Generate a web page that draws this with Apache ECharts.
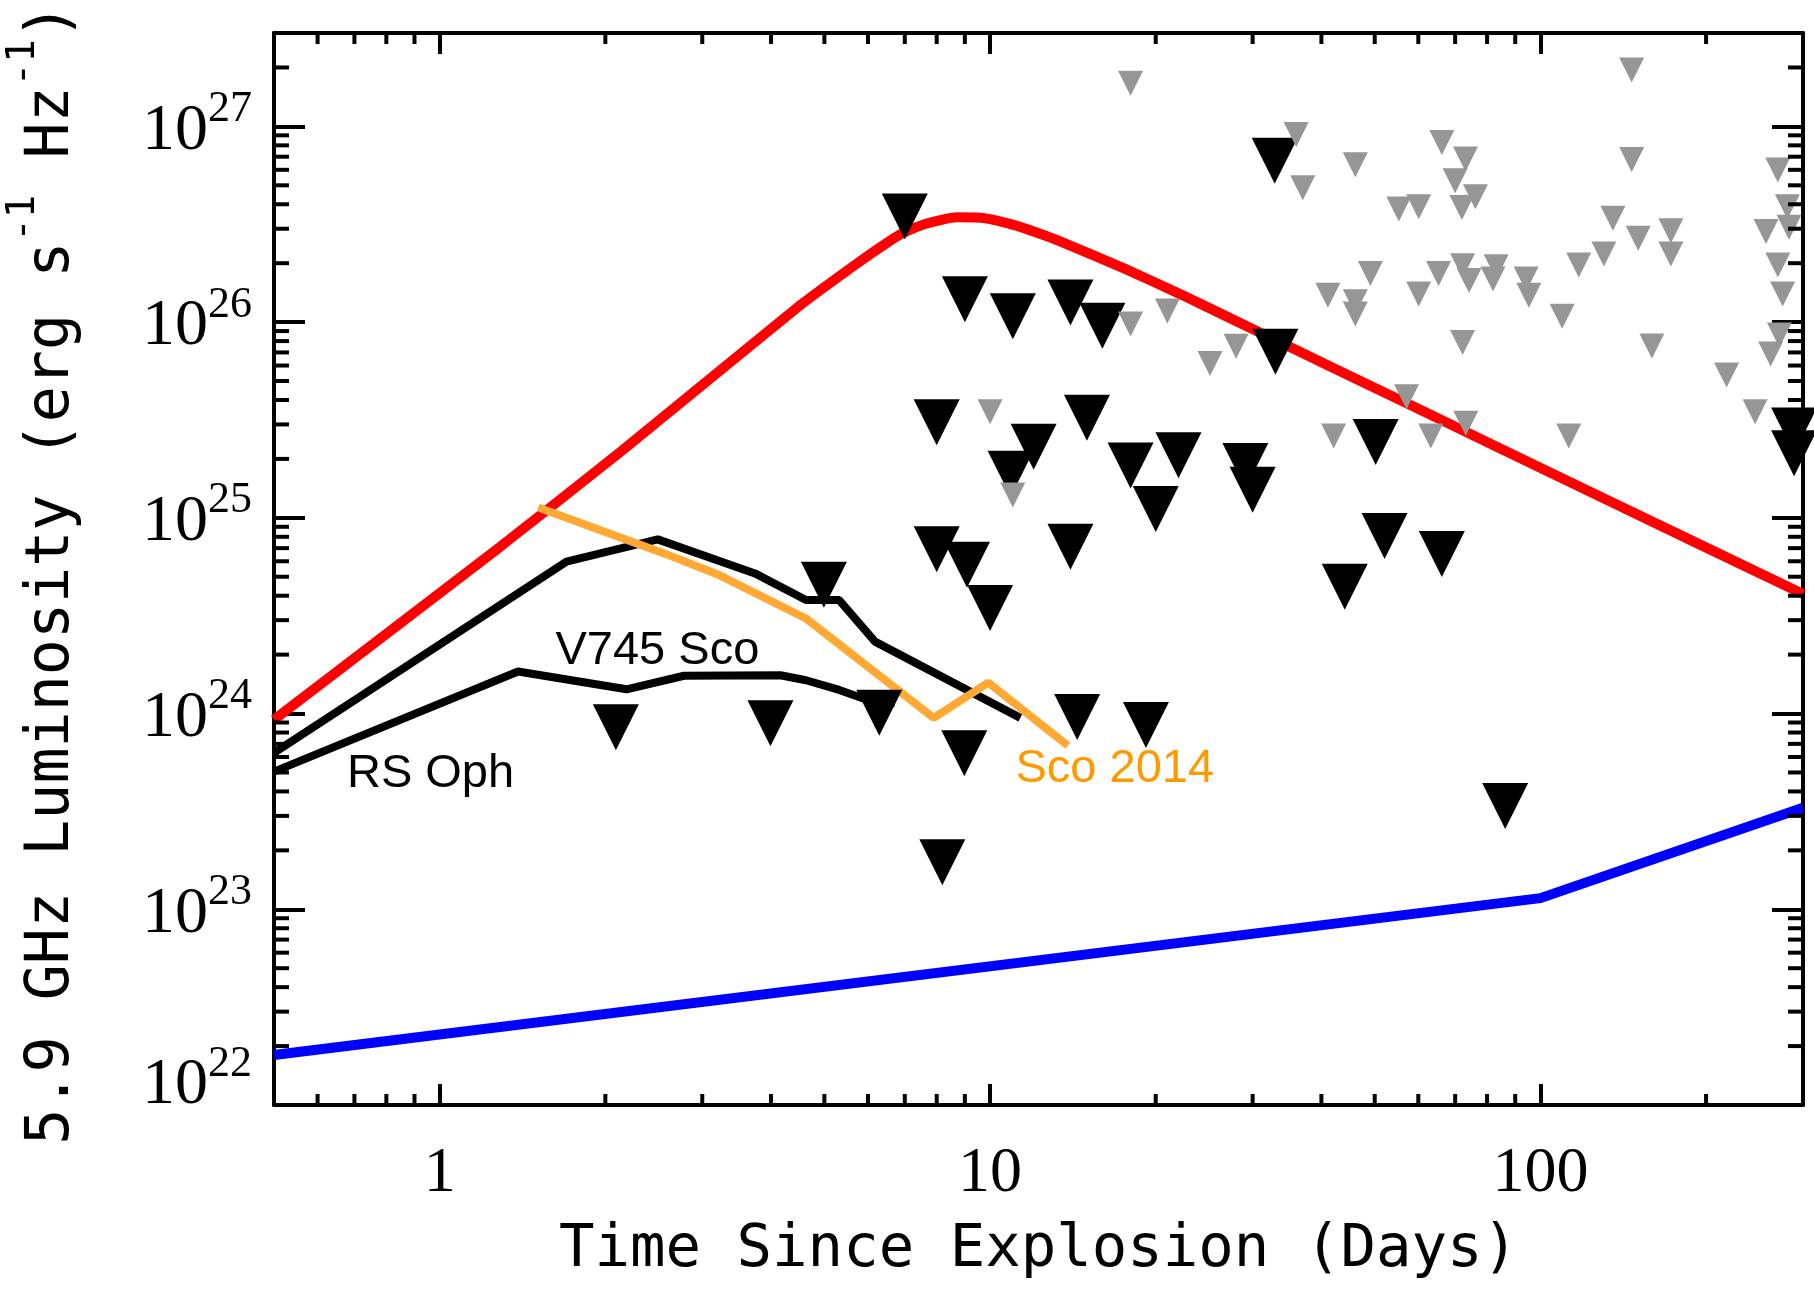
<!DOCTYPE html>
<html>
<head>
<meta charset="utf-8">
<title>5.9 GHz luminosity vs time since explosion</title>
<script src="https://cdn.jsdelivr.net/npm/echarts@6/dist/echarts.min.js"></script>
<style>
  html, body { margin: 0; padding: 0; background: #ffffff; }
  #chart { width: 1814px; height: 1290px; }
</style>
</head>
<body>
<div id="chart"></div>
<script>
// Axis ranges (days, erg s^-1 Hz^-1)
const X_MIN = 0.5, X_MAX = 300;
const Y_MIN = 1e22, Y_MAX = 3e27;

// Minor tick positions (major ticks come from the log axes themselves)
const xMinorTicks = [0.6, 0.7, 0.8, 0.9, 2, 3, 4, 5, 6, 7, 8, 9, 20, 30, 40, 50, 60, 70, 80, 90, 200];
const yMinorTicks = [
  2e22, 3e22, 4e22, 5e22, 6e22, 7e22, 8e22, 9e22,
  2e23, 3e23, 4e23, 5e23, 6e23, 7e23, 8e23, 9e23,
  2e24, 3e24, 4e24, 5e24, 6e24, 7e24, 8e24, 9e24,
  2e25, 3e25, 4e25, 5e25, 6e25, 7e25, 8e25, 9e25,
  2e26, 3e26, 4e26, 5e26, 6e26, 7e26, 8e26, 9e26,
  2e27
];

// Model light curves [days, luminosity]
const shockModel = [
  [0.5, 9.3e23], [1.287, 7.1e24], [2.15, 2.22e25], [4.52, 1.22e26], [5.74, 2.0e26],
  [6.52, 2.56e26], [6.95, 2.85e26], [7.65, 3.18e26], [8.71, 3.43e26], [9.75, 3.40e26],
  [11.07, 3.13e26], [12.58, 2.77e26], [13.85, 2.49e26], [17.6, 1.87e26], [22.4, 1.37e26],
  [30.9, 8.85e25], [42.5, 5.75e25], [59.2, 3.67e25], [129.4, 1.27e25], [300, 4.08e24]
];
const windModel = [[0.5, 1.8e22], [100, 1.14e23], [300, 3.3e23]];

// Observed nova light curves [days, luminosity]
const rsOphCurve = [
  [0.5, 6.3e23], [1.70, 5.98e24], [2.49, 7.76e24], [3.74, 5.2e24], [4.63, 3.8e24],
  [5.32, 3.8e24], [6.18, 2.33e24], [11.35, 9.5e23]
];
const v745ScoCurve = [
  [0.5, 5.05e23], [1.388, 1.64e24], [2.185, 1.33e24], [2.78, 1.56e24], [4.16, 1.57e24],
  [4.63, 1.48e24], [5.32, 1.32e24], [5.85, 1.2e24], [6.72, 1.13e24]
];
const sco2014Curve = [
  [1.511, 1.13e25], [2.55, 6.6e24], [3.22, 5.1e24], [4.63, 3.06e24], [7.90, 9.5e23],
  [9.93, 1.44e24], [13.85, 6.85e23]
];

// Upper limits [days, luminosity]
const blackLimits = [
  [7.00, 3.46e26], [32.9, 6.67e26], [9.00, 1.31e26], [11.0, 1.07e26], [14.0, 1.26e26],
  [16.0, 9.57e25], [33.0, 7.05e25], [8.00, 3.08e25], [12.0, 2.31e25], [15.0, 3.25e25],
  [10.9, 1.68e25], [18.0, 1.85e25], [22.0, 2.09e25], [29.1, 1.84e25], [30.0, 1.39e25],
  [20.0, 1.11e25], [50.2, 2.44e25], [8.0, 6.92e24], [9.08, 5.75e24], [10.0, 3.46e24],
  [14.0, 7.11e24], [52.1, 8.07e24], [44.1, 4.45e24], [4.99, 4.55e24], [66.2, 6.53e24],
  [86.3, 3.37e23], [2.09, 8.51e23], [3.99, 8.91e23], [6.29, 1.01e24], [8.98, 6.26e23],
  [14.4, 9.59e23], [19.2, 8.73e23], [8.19, 1.74e23], [289, 2.79e25], [289, 2.14e25]
];
const greyLimits = [
  [18.0, 1.66e27], [146.5, 1.94e27], [36.0, 9.10e26], [37.0, 4.86e26], [46.1, 6.37e26],
  [66.2, 8.28e26], [73.1, 6.81e26], [70.0, 5.27e26], [76.2, 4.37e26], [72.0, 3.85e26],
  [55.3, 3.78e26], [60.1, 3.88e26], [146.5, 6.78e26], [270, 5.98e26], [281, 3.88e26],
  [257, 2.90e26], [283, 3.05e26], [135.4, 3.39e26], [150.6, 2.68e26], [172.6, 2.93e26],
  [172.6, 2.23e26], [130.4, 2.23e26], [117.4, 1.96e26], [270, 1.96e26], [275.5, 1.39e26],
  [49.1, 1.77e26], [65.3, 1.77e26], [72.2, 1.94e26], [74.2, 1.63e26], [83.1, 1.92e26],
  [82.0, 1.66e26], [94.2, 1.66e26], [95.3, 1.37e26], [60.1, 1.39e26], [41.1, 1.37e26],
  [46.1, 1.27e26], [46.1, 1.10e26], [109.5, 1.07e26], [72.2, 7.87e25], [159.4, 7.55e25],
  [271.8, 8.59e25], [262, 6.87e25], [217.9, 5.36e25], [245.5, 3.48e25], [57.1, 4.16e25],
  [63.2, 2.62e25], [73.2, 3.04e25], [112.6, 2.62e25], [42.1, 2.62e25], [28.0, 7.52e25],
  [25.1, 6.14e25], [21.0, 1.14e26], [18.0, 9.79e25], [10.0, 3.48e25], [11.0, 1.31e25]
];

// Curve annotations: [days, luminosity] of the text's left edge / middle
const curveLabels = [
  { text: 'V745 Sco', at: [1.62, 2.09e24], color: '#000000' },
  { text: 'RS Oph', at: [0.677, 4.9e23], color: '#000000' },
  { text: 'Sco 2014', at: [11.1, 5.2e23], color: '#ff9900' }
];

const MONO = '"DejaVu Sans Mono", monospace';
const SERIF = '"Liberation Serif", "Times New Roman", serif';
const SANS = '"Liberation Sans", Arial, sans-serif';

function isDecade(v) {
  const e = Math.log10(v);
  return Math.abs(e - Math.round(e)) < 1e-6;
}

const axisLineStyle = { color: '#000', width: 4 };
const xMajorTick = { show: true, inside: true, length: 21, lineStyle: { color: '#000', width: 4 } };
const yMajorTick = { show: true, inside: true, length: 31, lineStyle: { color: '#000', width: 4 } };
const X_MINOR_LEN = 11, Y_MINOR_LEN = 15;

const chart = echarts.init(document.getElementById('chart'), null, {
  renderer: 'canvas', width: 1814, height: 1290, devicePixelRatio: 1
});

function tickLine(x1, y1, x2, y2) {
  return { type: 'line', shape: { x1, y1, x2, y2 }, style: { stroke: '#000', lineWidth: 4 } };
}

const option = {
  backgroundColor: '#ffffff',
  animation: false,
  grid: { left: 274, right: 11, top: 33, bottom: 185, containLabel: false, outerBoundsMode: 'none' },
  xAxis: [
    {
      type: 'log', logBase: 10, position: 'bottom', min: X_MIN, max: X_MAX,
      axisLine: { show: true, onZero: false, lineStyle: axisLineStyle },
      axisTick: xMajorTick,
      splitLine: { show: false },
      axisLabel: {
        margin: 37, color: '#000', fontFamily: SERIF, fontSize: 64, lineHeight: 64,
        formatter: v => (isDecade(v) ? String(Math.round(v)) : '')
      },
      name: 'Time Since Explosion (Days)', nameLocation: 'middle', nameGap: 116,
      nameTextStyle: { color: '#000', fontFamily: MONO, fontSize: 59, lineHeight: 59 }
    },
    {
      type: 'log', logBase: 10, position: 'top', min: X_MIN, max: X_MAX,
      axisLine: { show: true, onZero: false, lineStyle: axisLineStyle },
      axisTick: xMajorTick, axisLabel: { show: false }, splitLine: { show: false }
    }
  ],
  yAxis: [
    {
      type: 'log', logBase: 10, position: 'left', min: Y_MIN, max: Y_MAX,
      axisLine: { show: true, onZero: false, lineStyle: axisLineStyle },
      axisTick: yMajorTick,
      splitLine: { show: false },
      axisLabel: {
        margin: 22, color: '#000', showMaxLabel: false,
        formatter: v => {
          if (!isDecade(v)) return '';
          const e = Math.round(Math.log10(v));
          return (e === 22 ? '{b2|10}' : '{b|10}') + '{s|' + e + '}';
        },
        rich: {
          b: { fontFamily: SERIF, fontSize: 66, color: '#000', verticalAlign: 'top', padding: [11, 0, 1, 0] },
          b2: { fontFamily: SERIF, fontSize: 66, color: '#000', verticalAlign: 'top', padding: [11, 0, 49, 0] },
          s: { fontFamily: SERIF, fontSize: 44, color: '#000', verticalAlign: 'top' }
        }
      },
      name: '{a|5.9 GHz Luminosity (erg s}{s|-1}{a| Hz}{s|-1}{e|)}',
      nameLocation: 'middle', nameRotate: 90, nameGap: 192,
      nameTextStyle: {
        color: '#000',
        rich: {
          a: { fontFamily: MONO, fontSize: 60, color: '#000', verticalAlign: 'top', padding: [18, 0, 0, 0] },
          e: { fontFamily: MONO, fontSize: 60, color: '#000', verticalAlign: 'top', padding: [18, 10, 0, 0] },
          s: { fontFamily: MONO, fontSize: 39, color: '#000', verticalAlign: 'top' }
        }
      }
    },
    {
      type: 'log', logBase: 10, position: 'right', min: Y_MIN, max: Y_MAX,
      axisLine: { show: true, onZero: false, lineStyle: axisLineStyle },
      axisTick: yMajorTick, axisLabel: { show: false }, splitLine: { show: false }
    }
  ],
  series: [
    {
      name: 'x minor ticks', type: 'custom', coordinateSystem: 'cartesian2d', silent: true, z: 6,
      data: xMinorTicks.map(v => [v, Y_MIN]),
      renderItem: (params, api) => {
        const v = api.value(0);
        const b = api.coord([v, Y_MIN]);
        const t = api.coord([v, Y_MAX]);
        return { type: 'group', children: [
          tickLine(b[0], b[1], b[0], b[1] - X_MINOR_LEN),
          tickLine(t[0], t[1], t[0], t[1] + X_MINOR_LEN)
        ] };
      }
    },
    {
      name: 'y minor ticks', type: 'custom', coordinateSystem: 'cartesian2d', silent: true, z: 6,
      data: yMinorTicks.map(v => [X_MIN, v]),
      renderItem: (params, api) => {
        const v = api.value(1);
        const l = api.coord([X_MIN, v]);
        const r = api.coord([X_MAX, v]);
        return { type: 'group', children: [
          tickLine(l[0], l[1], l[0] + Y_MINOR_LEN, l[1]),
          tickLine(r[0], r[1], r[0] - Y_MINOR_LEN, r[1])
        ] };
      }
    },
    {
      name: 'wind model', type: 'line', data: windModel, symbol: 'none', z: 2,
      lineStyle: { color: '#0000ff', width: 10 }
    },
    {
      name: 'shock model', type: 'line', data: shockModel, symbol: 'none', smooth: 0.2, z: 2,
      lineStyle: { color: '#ff0000', width: 10 }
    },
    {
      name: 'RS Oph', type: 'line', data: rsOphCurve, symbol: 'none', z: 2,
      lineStyle: { color: '#000000', width: 8 }
    },
    {
      name: 'V745 Sco', type: 'line', data: v745ScoCurve, symbol: 'none', z: 2,
      lineStyle: { color: '#000000', width: 8 }
    },
    {
      name: 'Sco 2014', type: 'line', data: sco2014Curve, symbol: 'none', z: 2,
      lineStyle: { color: '#ffa833', width: 8 }
    },
    {
      name: 'limits', type: 'scatter', data: blackLimits, symbol: 'triangle', symbolRotate: 180,
      symbolSize: [46, 46], itemStyle: { color: '#000000', opacity: 1 }, z: 3
    },
    {
      name: 'other limits', type: 'scatter', data: greyLimits, symbol: 'triangle', symbolRotate: 180,
      symbolSize: [25, 25], itemStyle: { color: '#969696', opacity: 1 }, z: 4
    },
    {
      name: 'curve labels', type: 'scatter', silent: true, z: 5,
      symbolSize: 1, itemStyle: { color: 'rgba(0,0,0,0)', opacity: 1 },
      data: curveLabels.map(d => ({
        value: d.at, name: d.text,
        label: {
          show: true, formatter: '{b}', position: 'right', distance: 0, opacity: 1,
          fontFamily: SANS, fontSize: 47, color: d.color
        }
      }))
    }
  ]
};

chart.setOption(option);
</script>
</body>
</html>
